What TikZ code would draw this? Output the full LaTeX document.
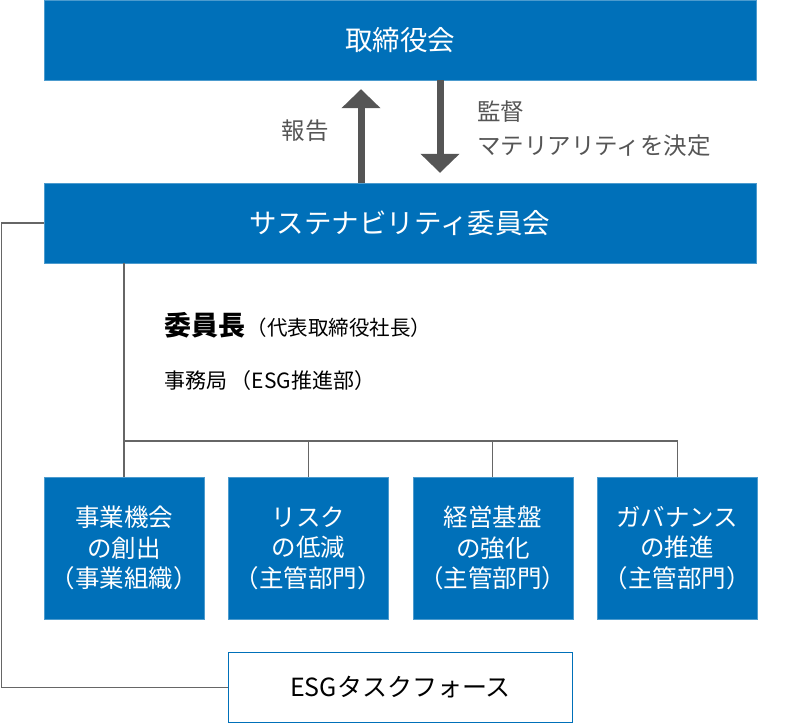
\documentclass[tikz,border=0pt]{standalone}
\usepackage{fontspec}
\setmainfont{Noto Sans CJK JP}
\usetikzlibrary{positioning,arrows.meta}
\definecolor{esgblue}{HTML}{0070B9}
\definecolor{arrowgray}{HTML}{555555}
\definecolor{linegray}{HTML}{666666}

\begin{document}
\begin{tikzpicture}[x=1pt, y=-1pt,
                    bluebox/.style={fill=esgblue, draw=esgblue!70, text=white, inner sep=0pt, font=\fontsize{27.5}{30}\selectfont},
                    wide/.style={bluebox, minimum width=712pt, minimum height=80pt},
                    themebox/.style={bluebox, minimum width=160pt, minimum height=142pt, align=center, font=\fontsize{24.5}{30.5}\selectfont},
                    taskbox/.style={draw=esgblue, line width=1.6pt, fill=white, minimum width=344pt, minimum height=70pt, font=\fontsize{25}{28}\selectfont},
                    bigarrow/.style={draw=arrowgray, line width=7pt, -{Triangle[width=38pt, length=19pt]}},
                    orgline/.style={draw=linegray, line width=1.1pt},
                    note/.style={text=arrowgray, font=\fontsize{23.5}{34}\selectfont, inner sep=0pt},]
    \useasboundingbox (0,0) rectangle (800,724);
    % nodes
    \node[wide]      (board)      at (400,40)      {取締役会};
    \node[wide]      (committee)  at (400,223)     {サステナビリティ委員会};
    \node[themebox]  (opp)        at (124,548)     {事業機会\\の創出\\（事業組織）};
    \node[themebox]  (risk)       [right=24pt of opp]   {リスク\\の低減\\（主管部門）};
    \node[themebox]  (base)       [right=24pt of risk]  {経営基盤\\の強化\\（主管部門）};
    \node[themebox]  (gov)        [right=24pt of base]  {ガバナンス\\の推進\\（主管部門）};
    \node[taskbox]   (task)       at (400.5,687.5) {ESGタスクフォース};
    \node[note, anchor=east]  (report)  at (329,131)  {報告};
    \node[note, anchor=west, align=left]  (oversee)  at (477,129)  {監督\\マテリアリティを決定};
    \node[anchor=west, inner sep=0pt]  (chair)  at (164,325)  {{\bfseries\fontsize{27}{30}\selectfont 委員長}\,{\fontsize{20.5}{22}\selectfont （代表取締役社長）}};
    \node[anchor=west, inner sep=0pt]  (office) at (164,381)  {\fontsize{21}{22}\selectfont 事務局\,（ESG推進部）};
    \coordinate (bar) at (124,441);
    % arrows
    \draw[bigarrow] ([xshift=-39pt]committee.north) -- ([xshift=-39pt, yshift=-9pt]board.south);
    \draw[bigarrow] ([xshift=40pt]board.south) -- ([xshift=40pt, yshift=10pt]committee.north);
    % lines
    \draw[orgline] (committee.south -| opp.north) -- (opp.north);
    \draw[orgline] (bar) -| (gov.north);
    \draw[orgline] (bar -| risk.north) -- (risk.north);
    \draw[orgline] (bar -| base.north) -- (base.north);
    \draw[orgline] (committee.west) -- ++(-42,0) |- (task.west);
\end{tikzpicture}
\end{document}
